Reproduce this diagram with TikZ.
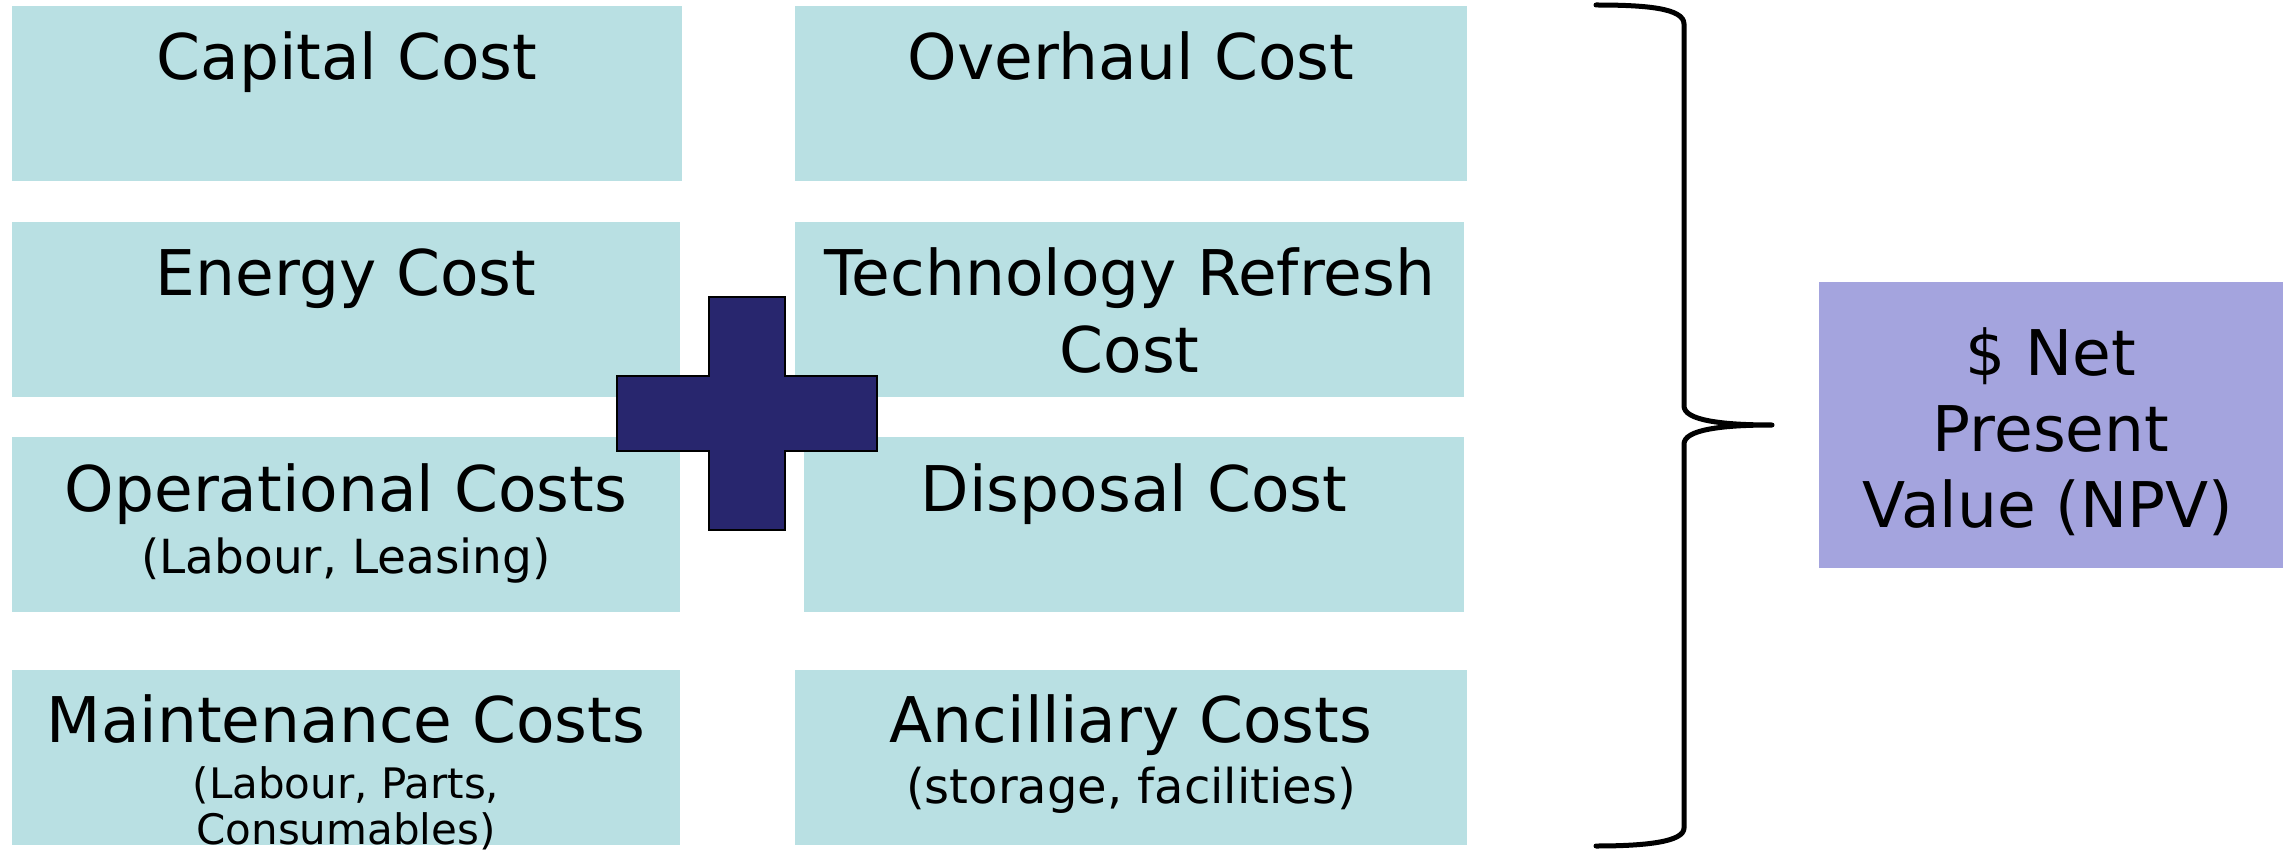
\documentclass[tikz,border=0pt]{standalone}
\usepackage{fontspec}
\setmainfont{DejaVu Sans}
\definecolor{boxblue}{RGB}{185,224,227}
\definecolor{npvcol}{RGB}{164,164,222}
\definecolor{plusnavy}{RGB}{40,38,110}
\begin{document}
\begin{tikzpicture}[x=1pt,y=-1pt,
  costbox/.style={fill=boxblue, draw=none, inner sep=0pt, outer sep=0pt, minimum height=175pt},
  npvbox/.style={fill=npvcol, draw=none, inner sep=0pt, outer sep=0pt, minimum width=464pt, minimum height=286pt},
  bigtxt/.style={font=\fontsize{63}{77}\selectfont, anchor=base, inner sep=0pt},
  smalltxt/.style={font=\fontsize{47}{50}\selectfont, anchor=base, inner sep=0pt},
  tinytxt/.style={font=\fontsize{42}{46}\selectfont, anchor=base, inner sep=0pt},
  plusshape/.style={fill=plusnavy, draw=black, line width=1.5pt},
  bracestyle/.style={draw=black, line width=5pt, line cap=round, line join=round}]
\useasboundingbox (0,0) rectangle (2290,858);
% boxes
\node[costbox, minimum width=670pt] (cap) at (347,93.5) {};
\node[costbox, minimum width=668pt] (ene) at (346,309.5) {};
\node[costbox, minimum width=668pt] (ope) at (346,524.5) {};
\node[costbox, minimum width=668pt] (mai) at (346,757.5) {};
\node[costbox, minimum width=672pt] (ove) at (1131,93.5) {};
\node[costbox, minimum width=669pt] (tec) at (1129.5,309.5) {};
\node[costbox, minimum width=660pt] (dis) at (1134,524.5) {};
\node[costbox, minimum width=672pt] (anc) at (1131,757.5) {};
\node[npvbox] (npv) at (2051,425) {};
% texts
\node[bigtxt] (capT) at (347,80) {Capital Cost};
\node[bigtxt] (eneT) at (346,296) {Energy Cost};
\node[bigtxt] (opeT) at (346,511) {Operational Costs};
\node[smalltxt] (opeS) at (346,573) {(Labour, Leasing)};
\node[bigtxt] (maiT) at (346,742) {Maintenance Costs};
\node[tinytxt] (maiS1) at (346,798) {(Labour, Parts,};
\node[tinytxt] (maiS2) at (346,844) {Consumables)};
\node[bigtxt] (oveT) at (1131,80) {Overhaul Cost};
\node[bigtxt] (tecT1) at (1129.5,296) {Technology Refresh};
\node[bigtxt] (tecT2) at (1129.5,372) {Cost};
\node[bigtxt] (disT) at (1134,511) {Disposal Cost};
\node[bigtxt] (ancT) at (1131,742) {Ancilliary Costs};
\node[smalltxt, font=\fontsize{48}{50}\selectfont] (ancS) at (1131,803) {(storage, facilities)};
\node[bigtxt] (npvT1) at (2051,375) {\$ Net};
\node[bigtxt] (npvT2) at (2051,451) {Present};
\node[bigtxt] (npvT3) at (2048,527) {Value (NPV)};
% plus sign
\draw[plusshape] (709,297) -- (785,297) -- (785,376) -- (877,376) -- (877,451) -- (785,451)
  -- (785,530) -- (709,530) -- (709,451) -- (617,451) -- (617,376) -- (709,376) -- cycle;
% brace
\coordinate (brTop) at (1596,5);
\coordinate (brTip) at (1772,425);
\coordinate (brBot) at (1596,846);
\draw[bracestyle] (brTop) .. controls (1645,5) and (1684,8) .. (1684,24) -- (1684,406)
  .. controls (1684,420) and (1720,425) .. (brTip)
  .. controls (1720,425) and (1684,430) .. (1684,444) -- (1684,828)
  .. controls (1684,842) and (1645,846) .. (brBot);
\end{tikzpicture}
\end{document}
